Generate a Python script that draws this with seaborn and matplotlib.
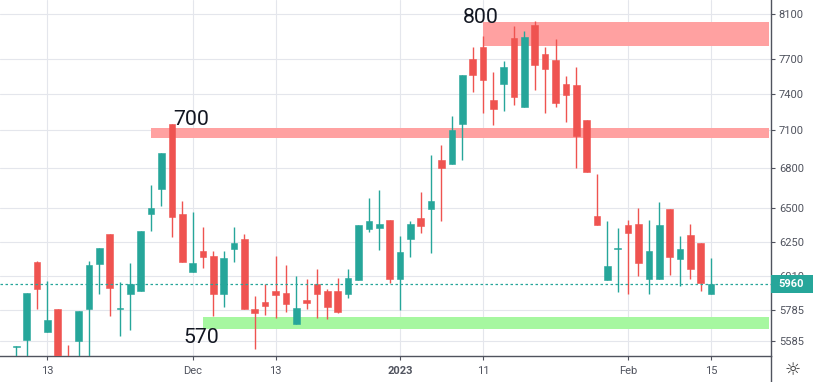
import matplotlib
matplotlib.use("Agg")
import numpy as np
import matplotlib.pyplot as plt
import matplotlib.transforms as mtransforms
from matplotlib.lines import Line2D
from matplotlib.patches import Rectangle
from matplotlib.ticker import FixedLocator, FixedFormatter, NullLocator
import seaborn as sns

sns.set_theme(style="white")
plt.rcParams['font.family'] = ['Roboto', 'DejaVu Sans']

# --- daily candles ---
opens = [5548, 5591, 6110, 5642, 5792, 5480, 5587, 5794, 6099, 6308,
         5795, 5890, 5914, 6451, 6642, 7150, 6453, 6043, 6185, 6152,
         5894, 6204, 6272, 5790, 5836, 5912, 5899, 5696, 5852, 5957,
         5912, 5912, 5894, 5986, 6346, 6354, 6409, 5993, 6275, 6426,
         6492, 6862, 6834, 7152, 7698, 7804, 7347, 7485, 7885, 7292,
         7999, 7742, 7690, 7483, 7474, 7182, 6441, 5988, 6204, 6371,
         6378, 5995, 5995, 6490, 6131, 6301, 6244, 5894]
highs = [5553, 5897, 6115, 5980, 5792, 5560, 5781, 6117, 6209, 6308,
         5971, 6103, 6330, 6670, 6920, 7150, 6552, 6468, 6361, 6189,
         6187, 6359, 6308, 5878, 5957, 6152, 6088, 6014, 5995, 6062,
         5925, 6000, 6062, 6373, 6572, 6632, 6409, 6294, 6402, 6619,
         6904, 6978, 7215, 7560, 7804, 7903, 7588, 7681, 7990, 7945,
         8039, 7804, 7876, 7554, 7629, 7182, 6752, 6402, 6349, 6407,
         6495, 6409, 6542, 6490, 6292, 6380, 6244, 6138]
lows = [5450, 5450, 5794, 5642, 5400, 5400, 5460, 5470, 5894, 5748,
        5619, 5655, 5914, 6332, 6513, 6287, 6112, 6043, 6067, 5748,
        5807, 6110, 5794, 5536, 5753, 5735, 5774, 5696, 5794, 5731,
        5729, 5766, 5865, 5986, 6325, 6194, 5967, 5785, 6147, 6318,
        6175, 6402, 6834, 6865, 7417, 7242, 7144, 7258, 7308, 7292,
        7431, 7240, 7287, 7168, 6798, 6772, 6375, 5988, 5905, 5894,
        6014, 5894, 5995, 6023, 5948, 5995, 5914, 5894]
closes = [5553, 5897, 5927, 5720, 5420, 5440, 5781, 6088, 6209, 5934,
          5799, 5959, 6330, 6498, 6920, 6434, 6112, 6103, 6147, 5890,
          6138, 6246, 5794, 5768, 5814, 5885, 5827, 5799, 5834, 5894,
          5807, 5772, 6000, 6373, 6404, 6380, 5995, 6180, 6380, 6368,
          6552, 6803, 7101, 7560, 7562, 7517, 7275, 7629, 7375, 7894,
          7649, 7614, 7325, 7392, 7055, 6772, 6375, 6083, 6207, 6318,
          6105, 6187, 6373, 6145, 6201, 6064, 5968, 5960]

# x-axis labels (candle index -> label)
tick_idx = [3, 17, 25, 37, 45, 59, 67]
tick_labels = ['13', 'Dec', '13', '2023', '11', 'Feb', '15']
price_ticks = [5585, 5785, 6010, 6250, 6500, 6800, 7100, 7400, 7700, 8100]
last_price = 5960

# drawn zones: start candle, low, high, tag
zone_start = [45, 13, 18]
zone_low = [7813, 7036, 5662]
zone_high = [8032, 7114, 5742]
zone_tags = ['800', '700', '570']

TEAL = '#26a69a'
RED = '#ef5350'
zone_colors = ['#ffa1a1', '#ffa1a1', '#a6f7a0']
tag_pos = [(43.1, 8023), (15.14, 7141), (16.15, 5570)]
AXIS_COL = '#50535e'

opens = np.array(opens)
highs = np.array(highs)
lows = np.array(lows)
closes = np.array(closes)
x = np.arange(len(opens))

fig = plt.figure(figsize=(8.19, 3.82), dpi=100)
ax = fig.add_axes([0, 26 / 382, 770.5 / 819, 356 / 382])
ax.set_yscale('log')
x_right = 72.73

# zones
for s, lo, hi, c in zip(zone_start, zone_low, zone_high, zone_colors):
    ax.fill_between([s, x_right - 0.18], lo, hi, color=c, lw=0, zorder=1)

# candles
cols = np.where(closes >= opens, TEAL, RED)
ax.vlines(x, lows, highs, colors=cols, lw=1.0, zorder=3)
body_lo = np.minimum(opens, closes)
body_h = np.maximum(np.abs(closes - opens), 2)
ax.bar(x, body_h, bottom=body_lo, width=0.64, color=cols, edgecolor=cols,
       linewidth=0.4, zorder=4)

# zone tags
for (tx, ty), t in zip(tag_pos, zone_tags):
    ax.text(tx, ty, t, fontsize=15.3, color='#131722', va='baseline', ha='left', zorder=6)

# last price line + label
ax.axhline(last_price, color=TEAL, lw=0.9, ls=(0, (2, 2)), zorder=5)
trans = mtransforms.blended_transform_factory(ax.transAxes, ax.transData)
f = np.exp(8.7 / 878.7)
box_w = 42 / 770.5
ax.add_patch(Rectangle((1.0, last_price / f), box_w, last_price * f - last_price / f,
                       transform=trans, fc=TEAL, ec='none', clip_on=False, zorder=7))
ax.text(1.0 + box_w / 2, last_price, str(last_price), transform=trans, color='white',
        fontsize=8, fontweight='bold', ha='center', va='center', clip_on=False, zorder=8)

# axes formatting
ax.set_xlim(-1.57, x_right)
ax.set_ylim(5490, 8233)
ax.yaxis.tick_right()
ax.yaxis.set_major_locator(FixedLocator(price_ticks))
ax.yaxis.set_major_formatter(FixedFormatter([str(p) for p in price_ticks]))
ax.yaxis.set_minor_locator(NullLocator())
ax.set_xticks(tick_idx)
ax.set_xticklabels(tick_labels)
ax.get_xticklabels()[3].set_fontweight('bold')
ax.tick_params(axis='y', right=True, left=False, length=3, width=0.8, pad=3,
               color=AXIS_COL, labelcolor=AXIS_COL, labelsize=8)
ax.tick_params(axis='x', bottom=True, length=3, width=0.8, pad=4,
               color=AXIS_COL, labelcolor=AXIS_COL, labelsize=8)
ax.grid(True, color='#e4e6ec', lw=0.8, zorder=0)
ax.set_axisbelow(True)
for side in ['left', 'top']:
    ax.spines[side].set_visible(False)
for side in ['right', 'bottom']:
    ax.spines[side].set_color(AXIS_COL)
    ax.spines[side].set_linewidth(1.0)

# divider under the price scale and the settings glyph
fig.add_artist(Line2D([770.5 / 819] * 2, [0, 26 / 382], transform=fig.transFigure,
                      color=AXIS_COL, lw=1.0))
fig.text(793 / 819, 1 - 370 / 382, '\u263c', ha='center', va='center',
         fontsize=13, color='#333333', family='DejaVu Sans')

fig.savefig('out.png', dpi=100)
